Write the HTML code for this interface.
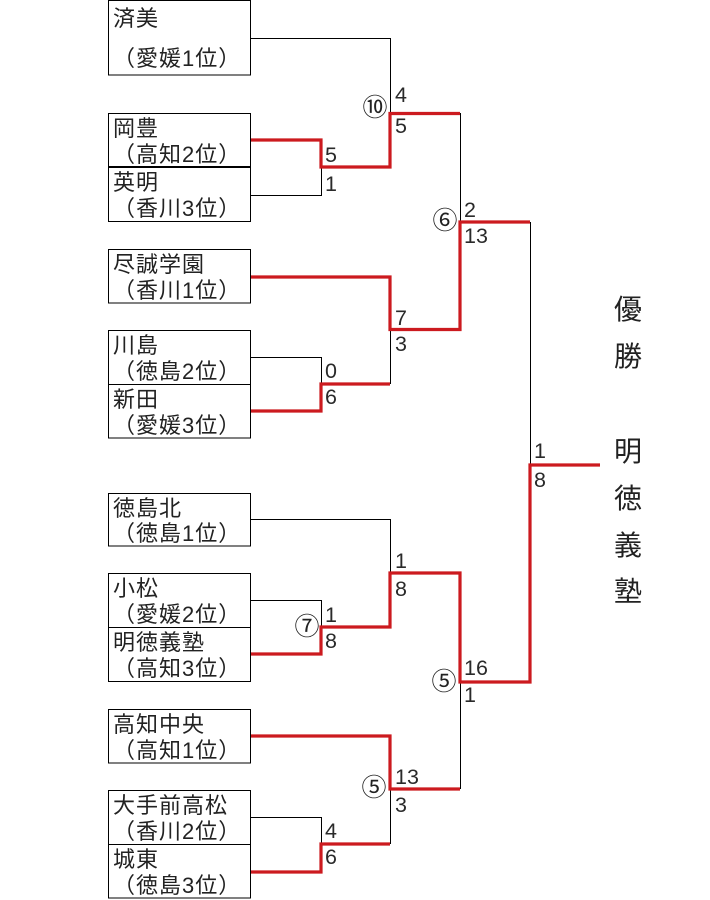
<!DOCTYPE html>
<html><head><meta charset="utf-8">
<style>
html,body{margin:0;padding:0;background:#fff;}
svg{display:block;}
.t{font-family:"Liberation Sans","Noto Sans CJK JP",sans-serif;font-size:22px;fill:#222;letter-spacing:1px;}
.n{font-family:"Liberation Sans",sans-serif;font-size:21.5px;fill:#2a2a2a;}
.c{font-family:"Noto Sans CJK JP",sans-serif;font-size:25px;fill:#222;text-anchor:middle;}
.v{font-family:"Liberation Sans","Noto Sans CJK JP",sans-serif;font-size:28px;fill:#222;text-anchor:middle;}
</style></head>
<body>
<svg width="710" height="900" viewBox="0 0 710 900" xmlns="http://www.w3.org/2000/svg">
<!-- boxes -->
<g fill="none" stroke="#000" stroke-width="1">
<rect x="108.5" y="0.5" width="142" height="74.5"/>
<rect x="108.5" y="113.5" width="142" height="108"/>
<rect x="108.5" y="249.5" width="142" height="53.5"/>
<rect x="108.5" y="330.5" width="142" height="107.5"/>
<line x1="108" y1="384.5" x2="251" y2="384.5"/>
<rect x="108.5" y="493.5" width="142" height="52.5"/>
<rect x="108.5" y="573.5" width="142" height="108"/>
<line x1="108" y1="627.5" x2="251" y2="627.5"/>
<rect x="108.5" y="709.5" width="142" height="53.5"/>
<rect x="108.5" y="790.5" width="142" height="107.5"/>
<line x1="108" y1="844.5" x2="251" y2="844.5"/>
</g>
<line x1="108" y1="167" x2="251" y2="167" stroke="#000" stroke-width="2"/>

<!-- black connectors -->
<g fill="none" stroke="#000" stroke-width="1">
<polyline points="251,38.5 390.5,38.5 390.5,113"/>
<polyline points="460.5,113 460.5,222"/>
<polyline points="251,195.5 321.5,195.5 321.5,167"/>
<polyline points="251,357.5 321.5,357.5 321.5,384"/>
<polyline points="390.5,329 390.5,384"/>
<polyline points="530.5,222 530.5,465"/>
<polyline points="251,519.5 390.5,519.5 390.5,573"/>
<polyline points="251,600.5 321.5,600.5 321.5,627"/>
<polyline points="460.5,682 460.5,789"/>
<polyline points="251,817.5 321.5,817.5 321.5,844"/>
<polyline points="390.5,789 390.5,844"/>
</g>

<!-- red winners -->
<g fill="none" stroke="#cc1a1f" stroke-width="3.2" stroke-linejoin="miter">
<polyline points="251,140 321,140 321,167 390,167 390,113.5 460,113.5"/>
<polyline points="251,277 390,277 390,329.5 460,329.5 460,222 530,222"/>
<polyline points="251,411 321,411 321,384 390,384"/>
<polyline points="251,654 321,654 321,627 390,627 390,573 460,573 460,682 530,682 530,465 600,465"/>
<polyline points="251,736 390,736 390,789 460,789"/>
<polyline points="251,872 321,872 321,844 390,844"/>
</g>

<!-- team names -->
<text class="t" x="113" y="26">済美</text>
<text class="t" x="113" y="66">（愛媛1位）</text>
<text class="t" x="113" y="136">岡豊</text>
<text class="t" x="113" y="162">（高知2位）</text>
<text class="t" x="113" y="190">英明</text>
<text class="t" x="113" y="216">（香川3位）</text>
<text class="t" x="113" y="272">尽誠学園</text>
<text class="t" x="113" y="298">（香川1位）</text>
<text class="t" x="113" y="353">川島</text>
<text class="t" x="113" y="379">（徳島2位）</text>
<text class="t" x="113" y="407">新田</text>
<text class="t" x="113" y="433">（愛媛3位）</text>
<text class="t" x="113" y="516">徳島北</text>
<text class="t" x="113" y="541">（徳島1位）</text>
<text class="t" x="113" y="596">小松</text>
<text class="t" x="113" y="622">（愛媛2位）</text>
<text class="t" x="113" y="650">明徳義塾</text>
<text class="t" x="113" y="676">（高知3位）</text>
<text class="t" x="113" y="732">高知中央</text>
<text class="t" x="113" y="758">（高知1位）</text>
<text class="t" x="113" y="813">大手前高松</text>
<text class="t" x="113" y="839">（香川2位）</text>
<text class="t" x="113" y="867">城東</text>
<text class="t" x="113" y="893">（徳島3位）</text>

<!-- scores -->
<text class="n" x="395" y="102">4</text>
<text class="n" x="395" y="133">5</text>
<text class="n" x="325" y="162">5</text>
<text class="n" x="325" y="191">1</text>
<text class="n" x="464" y="217">2</text>
<text class="n" x="464" y="243">13</text>
<text class="n" x="395" y="325">7</text>
<text class="n" x="395" y="351">3</text>
<text class="n" x="325" y="378">0</text>
<text class="n" x="325" y="404">6</text>
<text class="n" x="534" y="458">1</text>
<text class="n" x="534" y="487">8</text>
<text class="n" x="395" y="568">1</text>
<text class="n" x="395" y="596">8</text>
<text class="n" x="325" y="622">1</text>
<text class="n" x="325" y="648">8</text>
<text class="n" x="464" y="675">16</text>
<text class="n" x="464" y="702">1</text>
<text class="n" x="395" y="784">13</text>
<text class="n" x="395" y="812">3</text>
<text class="n" x="325" y="838">4</text>
<text class="n" x="325" y="864">6</text>

<!-- circled match numbers -->
<text class="c" x="375" y="116">⑩</text>
<text class="c" x="445" y="229">⑥</text>
<text class="c" x="307" y="635">⑦</text>
<text class="c" x="444" y="690">⑤</text>
<text class="c" x="374" y="796">⑤</text>

<!-- champion -->
<text class="v" x="628" y="319">優</text>
<text class="v" x="628" y="366">勝</text>
<text class="v" x="628" y="461">明</text>
<text class="v" x="628" y="508">徳</text>
<text class="v" x="628" y="555">義</text>
<text class="v" x="628" y="601">塾</text>
</svg>
</body></html>
